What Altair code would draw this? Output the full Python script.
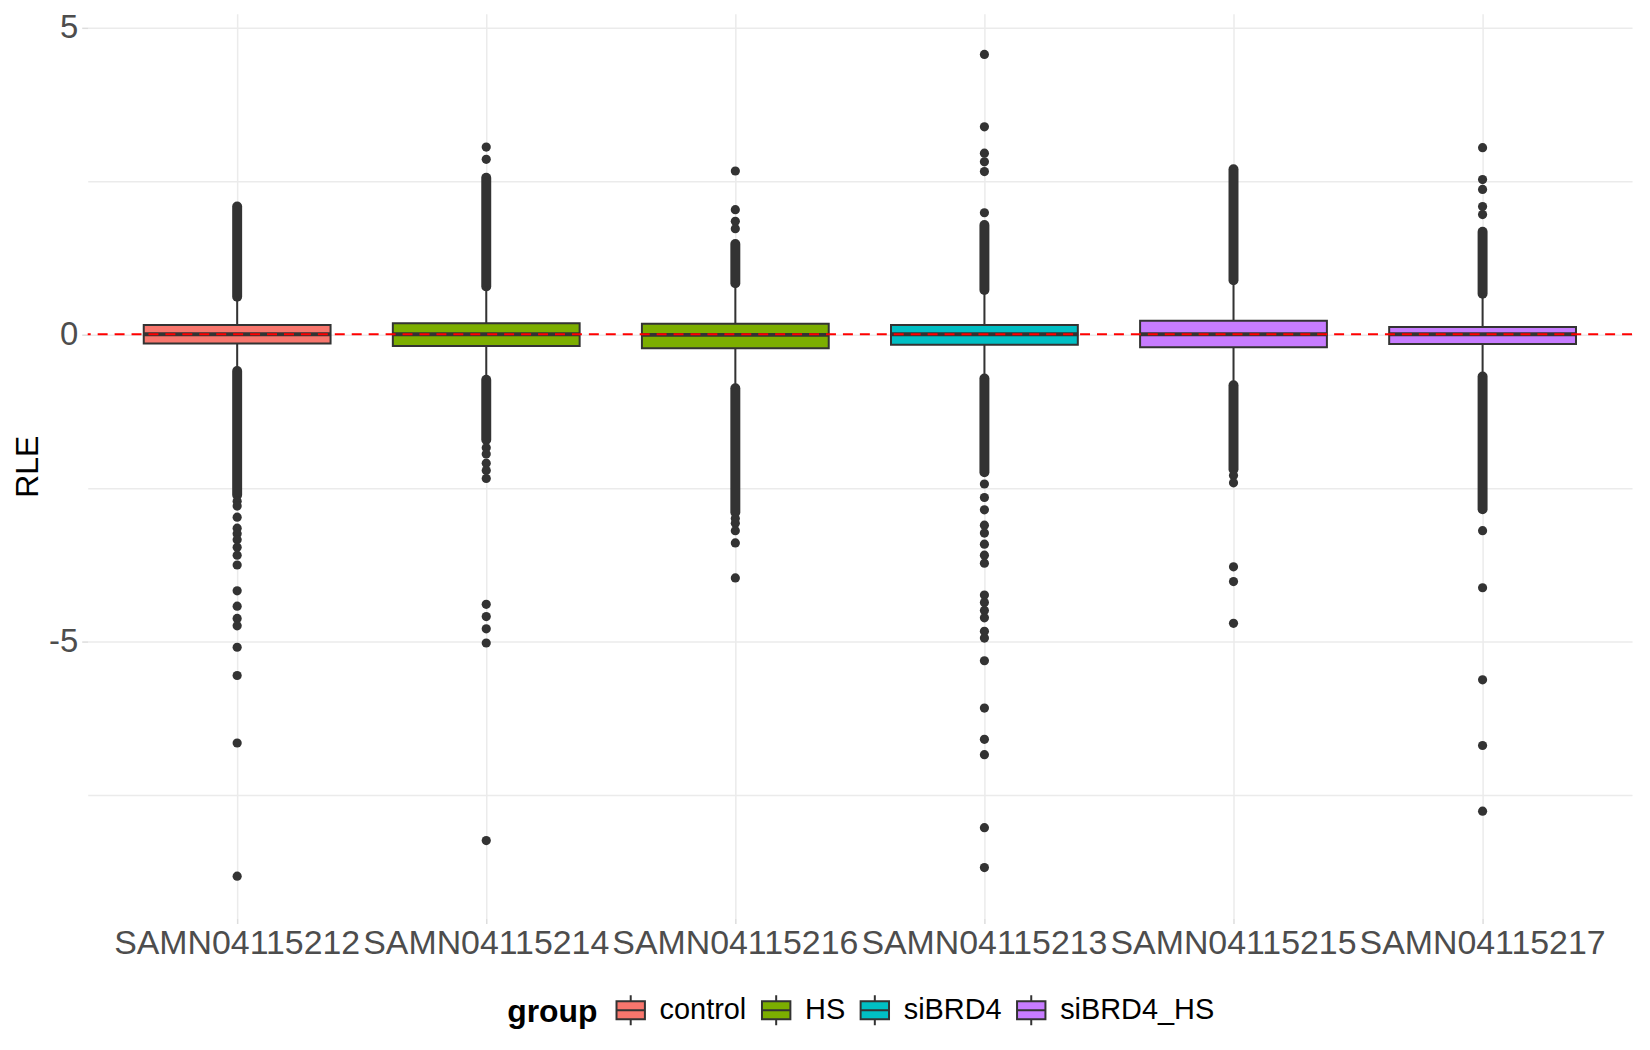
import altair as alt
import pandas as pd

samples = ["SAMN04115212", "SAMN04115214", "SAMN04115216",
           "SAMN04115213", "SAMN04115215", "SAMN04115217"]
groups = ["control", "HS", "HS", "siBRD4", "siBRD4_HS", "siBRD4_HS"]
group_order = ["control", "HS", "siBRD4", "siBRD4_HS"]
group_colors = ["#F8766D", "#7CAE00", "#00BFC4", "#C77CFF"]

# box statistics per sample
q1 = [-0.15, -0.19, -0.23, -0.17, -0.21, -0.16]
median = [0.0, 0.0, -0.01, 0.0, 0.0, 0.0]
q3 = [0.15, 0.18, 0.17, 0.15, 0.22, 0.12]
whisker_low = [-0.60, -0.74, -0.88, -0.72, -0.83, -0.69]
whisker_high = [0.61, 0.78, 0.83, 0.72, 0.88, 0.66]

# runs of outliers so dense that they merge into solid columns: (sample, low, high)
dense_sample = ["SAMN04115212", "SAMN04115212", "SAMN04115214", "SAMN04115214",
                "SAMN04115216", "SAMN04115216", "SAMN04115213", "SAMN04115213",
                "SAMN04115215", "SAMN04115215", "SAMN04115217", "SAMN04115217"]
dense_low = [0.61, -2.62, 0.78, -1.72, 0.83, -2.90, 0.72, -2.25, 0.88, -2.20, 0.66, -2.85]
dense_high = [2.08, -0.60, 2.55, -0.74, 1.47, -0.88, 1.78, -0.72, 2.69, -0.83, 1.67, -0.69]

# individually visible outliers
out_212 = [-2.72, -2.80, -2.98, -3.16, -3.25, -3.35, -3.47, -3.60, -3.76, -4.18,
           -4.43, -4.63, -4.75, -5.10, -5.56, -6.66, -8.83]
out_214 = [3.05, 2.85, -1.85, -1.95, -2.10, -2.22, -2.35, -4.40, -4.60, -4.80, -5.03, -8.25]
out_216 = [2.66, 2.03, 1.84, 1.72, -3.00, -3.08, -3.20, -3.40, -3.97]
out_213 = [4.56, 3.38, 2.95, 2.81, 2.65, 1.98, -2.44, -2.66, -2.86, -3.11, -3.24,
           -3.42, -3.60, -3.73, -4.25, -4.37, -4.50, -4.62, -4.84, -4.95, -5.32,
           -6.09, -6.60, -6.85, -8.04, -8.69]
out_215 = [-2.30, -2.42, -3.79, -4.03, -4.71]
out_217 = [3.04, 2.52, 2.36, 2.08, 1.95, -3.20, -4.13, -5.63, -6.70, -7.77]
outlier_lists = [out_212, out_214, out_216, out_213, out_215, out_217]

y_ticks = [-7.5, -5, -2.5, 0, 2.5, 5]

FONT = "Liberation Sans"

box_df = pd.DataFrame({"sample": samples, "group": groups, "q1": q1, "median": median,
                       "q3": q3, "wlo": whisker_low, "whi": whisker_high})
dense_df = pd.DataFrame({"sample": dense_sample, "lo": dense_low, "hi": dense_high})
out_df = pd.DataFrame([{"sample": s, "v": v} for s, vals in zip(samples, outlier_lists) for v in vals])
zero_df = pd.DataFrame({"v": [0]})

x_scale = alt.Scale(domain=samples, paddingInner=0, paddingOuter=0.1)
y_scale = alt.Scale(domain=[-9.52, 5.22], nice=False, zero=False)

x_axis = alt.Axis(title=None, labelAngle=0, labelFont=FONT, labelFontSize=34,
                  labelColor="#4D4D4D", labelOverlap=False, labelPadding=3, labelLimit=0,
                  domain=False, grid=True, gridColor="#EBEBEB", gridWidth=1.5,
                  ticks=True, tickColor="#DDDDDD", tickSize=5, tickWidth=1.5)
y_axis = alt.Axis(title="RLE", values=y_ticks,
                  labelExpr="datum.value % 5 === 0 ? toString(datum.value) : ''",
                  labelFont=FONT, labelFontSize=33, labelColor="#4D4D4D", labelPadding=4,
                  titleFont=FONT, titleFontSize=32, titleFontWeight="normal",
                  titleColor="#000000", titlePadding=4,
                  domain=False, grid=True, gridColor="#EBEBEB", gridWidth=1.5,
                  ticks=True, tickSize=6, tickWidth=1.5,
                  tickColor={"condition": {"test": "datum.value % 5 === 0", "value": "#DDDDDD"},
                             "value": "transparent"})

def X():
    return alt.X("sample:N", sort=samples, scale=x_scale, axis=x_axis)

def Y(field):
    return alt.Y(field, type="quantitative", scale=y_scale, axis=y_axis)

dense = alt.Chart(dense_df).mark_rule(color="#333333", strokeWidth=10, strokeCap="round").encode(
    x=X(), y=Y("lo"), y2="hi")

points = alt.Chart(out_df).mark_circle(size=85, color="#333333", opacity=1).encode(
    x=X(), y=Y("v"))

whiskers = alt.Chart(box_df).mark_rule(color="#333333", strokeWidth=2).encode(
    x=X(), y=Y("wlo"), y2="whi")

legend_symbol = "M-0.95,-0.6H0.95V0.6H-0.95Z M-0.95,0H0.95 M0,-0.6V-1 M0,0.6V1"

boxes = alt.Chart(box_df).mark_bar(width=alt.RelativeBandSize(0.75), stroke="#333333",
                                   strokeWidth=2, opacity=1).encode(
    x=X(), y=Y("q1"), y2="q3",
    fill=alt.Fill("group:N", scale=alt.Scale(domain=group_order, range=group_colors),
                  legend=alt.Legend(title="group", orient="none", direction="horizontal",
                                    legendX=421, legendY=984, titleOrient="left",
                                    titleFont=FONT, titleFontSize=32, titleFontWeight="bold",
                                    titleColor="#000000", titlePadding=17,
                                    labelFont=FONT, labelFontSize=29, labelColor="#000000",
                                    labelOffset=13, columnPadding=10,
                                    symbolType=legend_symbol, symbolSize=900,
                                    symbolStrokeColor="#333333", symbolStrokeWidth=2,
                                    symbolOpacity=1, padding=0)))

medians = alt.Chart(box_df).mark_tick(color="#333333", thickness=4, size=188, opacity=1).encode(
    x=X(), y=Y("median"))

zero_line = alt.Chart(zero_df).mark_rule(color="#FF0000", strokeWidth=2, strokeDash=[10, 7]).encode(
    y=Y("v"))

chart = alt.layer(dense, points, whiskers, boxes, medians, zero_line).properties(
    width=1550, height=908,
    padding={"left": 80, "top": 4, "right": 10, "bottom": 120},
    autosize=alt.AutoSizeParams(type="none"),
    background="#FFFFFF",
).configure_view(stroke=None)

chart.save("out.html", embed_options={"renderer": "svg", "actions": False})
